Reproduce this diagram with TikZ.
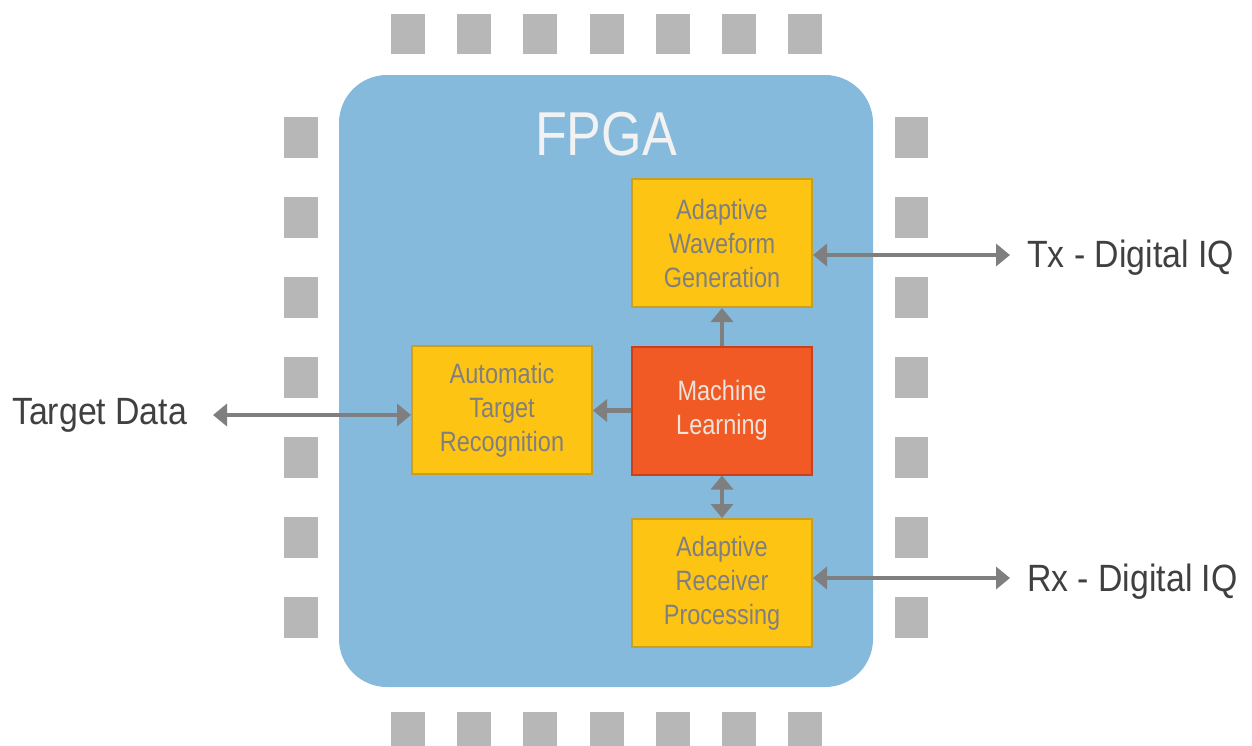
\documentclass[tikz,border=0pt]{standalone}
\usepackage{fontspec}
\setmainfont{Liberation Sans}
\newfontfamily\blockfont{Liberation Sans}[FakeStretch=0.84]
\newfontfamily\portfont{Liberation Sans}[FakeStretch=0.89]
\usetikzlibrary{arrows.meta}

\definecolor{chipblue}{RGB}{133,186,220}
\definecolor{pingrey}{RGB}{183,183,183}
\definecolor{blockyellow}{RGB}{254,196,20}
\definecolor{blockedge}{RGB}{201,160,30}
\definecolor{mlred}{RGB}{241,90,36}
\definecolor{mledge}{RGB}{200,64,30}
\definecolor{wiregrey}{RGB}{127,127,127}
\definecolor{labelgrey}{RGB}{64,64,64}
\definecolor{mltext}{RGB}{236,228,220}
\definecolor{titlewhite}{RGB}{242,242,242}

\begin{document}
\begin{tikzpicture}[x=1pt,y=-1pt,
  pin/.style={fill=pingrey},
  chip/.style={fill=chipblue, rounded corners=48pt, minimum width=534pt,
    minimum height=612pt, inner sep=0pt},
  block/.style={draw=blockedge, line width=2pt, fill=blockyellow,
    minimum width=180pt, minimum height=128pt, inner sep=0pt, align=center,
    text=wiregrey, font=\blockfont\fontsize{28}{34}\selectfont},
  mlblock/.style={block, draw=mledge, fill=mlred, text=mltext},
  tip/.tip={Triangle[length=14pt,width=22pt]},
  wire/.style={draw=wiregrey, line width=4.5pt, -tip},
  wire2/.style={draw=wiregrey, line width=4.5pt, tip-tip},
  portlabel/.style={inner sep=0pt, text=labelgrey,
    font=\portfont\fontsize{38}{44}\selectfont}
]
\path[use as bounding box] (0,0) rectangle (1252,745);
\clip (0,0) rectangle (1252,745);

% package pins
\foreach \x in {391,457,523,590,656,722,788} {
  \fill[pin] (\x,14) rectangle ++(34,40);
  \fill[pin] (\x,712) rectangle ++(34,40);
}
\foreach \y in {117,197,277,357,437,517,597} {
  \fill[pin] (284,\y) rectangle ++(34,41);
  \fill[pin] (895,\y) rectangle ++(33,41);
}

% FPGA die
\node[chip] (fpga) at (606,381) {};
\node[anchor=base, inner sep=0pt, text=titlewhite,
  font=\blockfont\fontsize{62}{62}\selectfont] (title) at (606,155) {FPGA};

% processing blocks
\node[block] (awg) at (722,243) {Adaptive\\Waveform\\Generation};
\node[mlblock] (ml) at (722,410.5) {Machine\\Learning};
\node[block] (atr) at (502,410) {Automatic\\Target\\Recognition};
\node[block] (arp) at (722,583) {Adaptive\\Receiver\\Processing};

% external ports
\node[portlabel, anchor=base west] (tx) at (1027,267) {Tx - Digital IQ};
\node[portlabel, anchor=base west] (rx) at (1027,591) {Rx - Digital IQ};
\node[portlabel, anchor=base west] (td) at (12,424) {Target Data};
\coordinate (txend) at (1010,255);
\coordinate (rxend) at (1010,578);
\coordinate (tdend) at (213,415);

% connections
\draw[wire] (ml.north) -- (awg.south);
\draw[wire] (ml.west) -- (atr.east |- ml.west);
\draw[wire2] (ml.south) -- (arp.north);
\draw[wire2] (awg.east |- txend) -- (txend);
\draw[wire2] (arp.east |- rxend) -- (rxend);
\draw[wire2] (tdend) -- (atr.west |- tdend);
\end{tikzpicture}
\end{document}
